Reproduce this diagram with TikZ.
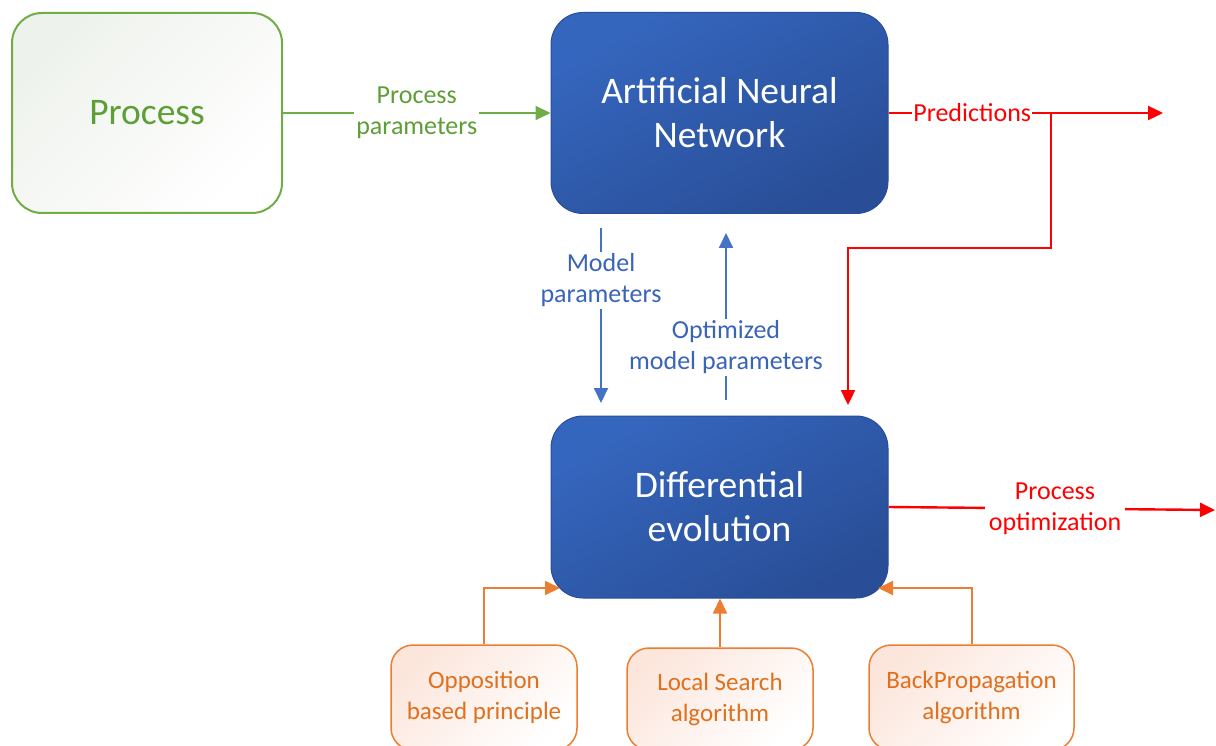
\documentclass[tikz,border=0pt]{standalone}
\usepackage{fontspec}
\setmainfont{Carlito}
\usetikzlibrary{arrows.meta,calc}
\definecolor{gline}{HTML}{70AD47}
\definecolor{gtext}{HTML}{5E9E36}
\definecolor{pfill}{HTML}{EEF2EC}
\definecolor{bfillA}{HTML}{3566BE}
\definecolor{bfillB}{HTML}{294E97}
\definecolor{bline}{HTML}{4472C4}
\definecolor{btext}{HTML}{3A64B8}
\definecolor{rline}{HTML}{FF0000}
\definecolor{oline}{HTML}{ED7D31}
\definecolor{otext}{HTML}{E0701E}
\definecolor{ofill}{HTML}{FCE6DC}
\begin{document}
\begin{tikzpicture}[x=1pt,y=-1pt,
  bigfont/.style={font=\fontsize{37.5}{44}\selectfont},
  lblfont/.style={font=\fontsize{26}{31}\selectfont},
  procbox/.style={rectangle, rounded corners=30pt, draw=gline, line width=2pt,
    top color=pfill, bottom color=white, shading angle=45,
    text=gtext, bigfont, align=center},
  bluebox/.style={rectangle, rounded corners=32pt, draw=bfillB, line width=1pt,
    top color=bfillA, bottom color=bfillB, shading angle=30,
    text=white, bigfont, align=center},
  algbox/.style={rectangle, rounded corners=22pt, draw=oline, line width=1.5pt,
    top color=ofill, bottom color=white, shading angle=45,
    text=otext, font=\fontsize{25}{31}\selectfont, align=center},
  lbl/.style={fill=white, inner sep=2pt, align=center, lblfont},
  tip/.style={-{Triangle[length=15pt,width=14pt]}},
  garr/.style={tip, draw=gline, line width=2pt},
  rarr/.style={tip, draw=rline, line width=2.4pt},
  barr/.style={tip, draw=bline, line width=2pt},
  oarr/.style={tip, draw=oline, line width=2pt}
]
\useasboundingbox (0,0) rectangle (1216,746);
\clip (0,0) rectangle (1216,746);

% boxes
\node[procbox, minimum width=270pt, minimum height=200pt] (proc) at (147,113) {Process};
\node[bluebox, minimum width=337pt, minimum height=201pt] (ann) at (719.5,113) {Artificial Neural\\Network};
\node[bluebox, minimum width=337pt, minimum height=182pt] (de) at (719.5,507) {Differential\\evolution};
\node[algbox, minimum width=186pt, minimum height=105pt] (opp) at (484,697.5) {Opposition\\based principle};
\node[algbox, minimum width=186pt, minimum height=102pt] (ls) at (720,699) {Local Search\\algorithm};
\node[algbox, minimum width=205pt, minimum height=105pt] (bp) at (971.5,697.5) {BackPropagation\\algorithm};

% coordinates
\coordinate (pend) at (1163,113);
\coordinate (pbr) at (1051,113);
\coordinate (pmid) at (848,248);
\coordinate (pdown) at (848,405);
\coordinate (mpA) at (601,228);
\coordinate (mpB) at (601,403);
\coordinate (opA) at (726,400);
\coordinate (opB) at (726,233);
\coordinate (poend) at (1215,510);
\coordinate (oppT) at (560,588);
\coordinate (bpT) at (878,588);

% green
\draw[garr] (proc) -- (ann) node[lbl, text=gtext, pos=.5] {Process\\parameters};

% red
\draw[rarr] (ann) -- (pend) node[lbl, text=rline, pos=.305, inner sep=1pt] {Predictions};
\draw[rarr] (pbr) |- (pmid) -- (pdown);
\draw[rarr] (de.east) -- (poend) node[lbl, text=rline, pos=.51, inner sep=4pt] {Process\\optimization};

% blue
\draw[barr] (mpA) -- (mpB) node[lbl, text=btext, pos=.3] {Model\\parameters};
\draw[barr] (opA) -- (opB) node[lbl, text=btext, pos=.315] {Optimized\\model parameters};

% orange
\draw[oarr] (opp.north) |- (oppT);
\draw[oarr] (ls.north) -- (de.south -| ls.north);
\draw[oarr] (bp.north) |- (bpT);
\end{tikzpicture}
\end{document}
